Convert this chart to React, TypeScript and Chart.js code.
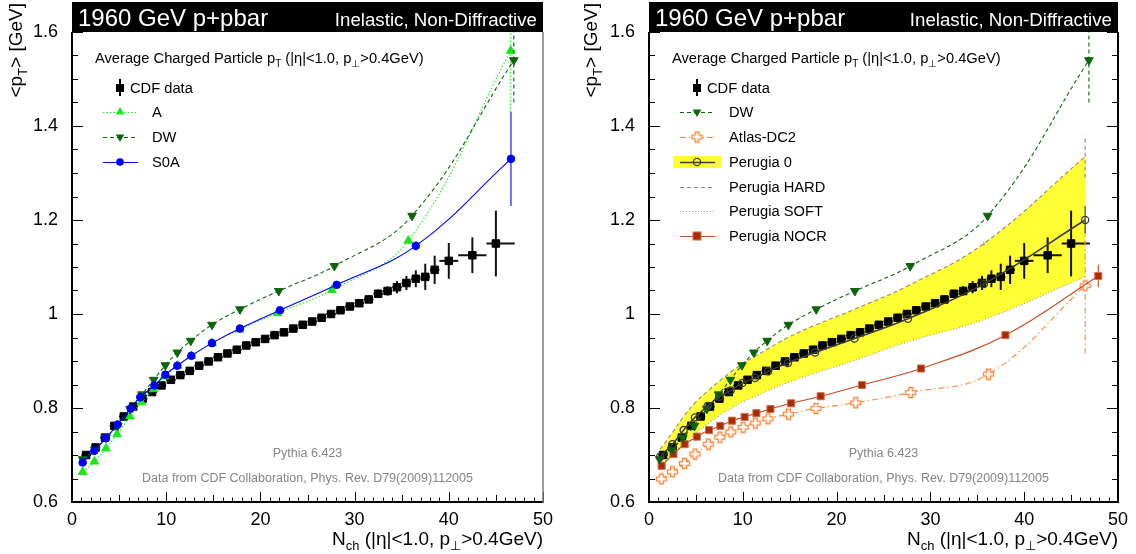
import React, { useEffect, useRef } from "react";
import { Chart, registerables } from "chart.js";
Chart.register(...registerables);

const FONT = "'Liberation Sans', Arial, Helvetica, sans-serif";

// ---------------- CDF data ----------------
const cdfX = [1.5, 2.5, 3.5, 4.5, 5.5, 6.5, 7.5, 8.5, 9.5, 10.5, 11.5, 12.5, 13.5, 14.5, 15.5, 16.5, 17.5, 18.5, 19.5, 20.5, 21.5, 22.5, 23.5, 24.5, 25.5, 26.5, 27.5, 28.5, 29.5, 30.5, 31.5, 32.5, 33.5, 34.5, 35.5, 36.5, 37.5, 38.5, 40, 42.5, 45];
const cdfY = [0.700, 0.716, 0.737, 0.762, 0.782, 0.803, 0.820, 0.834, 0.848, 0.860, 0.870, 0.879, 0.890, 0.899, 0.908, 0.916, 0.924, 0.933, 0.940, 0.947, 0.955, 0.961, 0.969, 0.977, 0.984, 0.992, 1.000, 1.008, 1.016, 1.023, 1.031, 1.043, 1.049, 1.057, 1.066, 1.075, 1.079, 1.094, 1.113, 1.125, 1.150];
const cdfErrY = [0.004, 0.004, 0.004, 0.004, 0.004, 0.004, 0.004, 0.004, 0.004, 0.004, 0.004, 0.004, 0.004, 0.004, 0.004, 0.004, 0.004, 0.004, 0.004, 0.004, 0.005, 0.005, 0.005, 0.005, 0.005, 0.006, 0.006, 0.007, 0.007, 0.008, 0.008, 0.009, 0.010, 0.013, 0.015, 0.018, 0.028, 0.030, 0.038, 0.038, 0.070];
const cdfErrXLo = [0.5, 0.5, 0.5, 0.5, 0.5, 0.5, 0.5, 0.5, 0.5, 0.5, 0.5, 0.5, 0.5, 0.5, 0.5, 0.5, 0.5, 0.5, 0.5, 0.5, 0.5, 0.5, 0.5, 0.5, 0.5, 0.5, 0.5, 0.5, 0.5, 0.5, 0.5, 0.5, 0.5, 0.5, 0.5, 0.5, 0.5, 0.5, 1, 1.5, 1];
const cdfErrXHi = [0.5, 0.5, 0.5, 0.5, 0.5, 0.5, 0.5, 0.5, 0.5, 0.5, 0.5, 0.5, 0.5, 0.5, 0.5, 0.5, 0.5, 0.5, 0.5, 0.5, 0.5, 0.5, 0.5, 0.5, 0.5, 0.5, 0.5, 0.5, 0.5, 0.5, 0.5, 0.5, 0.5, 0.5, 0.5, 0.5, 0.5, 0.5, 1, 1.5, 2];

// ---------------- Left panel MC ----------------
const aX = [1.13, 2.37, 3.61, 4.78, 6.16, 7.36, 8.67, 9.8, 11.18, 12.67, 14.86, 17.76, 21.8, 27.6, 35.7, 46.57];
const aY = [0.664, 0.686, 0.714, 0.744, 0.782, 0.812, 0.840, 0.867, 0.890, 0.911, 0.938, 0.967, 1.002, 1.051, 1.156, 1.560];
const aErr = [0, 0, 0, 0, 0, 0, 0, 0, 0, 0, 0, 0, 0, 0, 0.006, 0.13];

const dwX = [1.13, 2.44, 3.61, 4.85, 6.16, 7.43, 8.67, 9.91, 11.18, 12.6, 14.86, 17.83, 21.95, 27.85, 36.1, 46.9];
const dwY = [0.691, 0.711, 0.737, 0.762, 0.798, 0.829, 0.860, 0.891, 0.918, 0.943, 0.977, 1.010, 1.049, 1.102, 1.209, 1.540];
const dwErr = [0, 0, 0, 0, 0, 0, 0, 0, 0, 0, 0, 0, 0, 0, 0.006, 0.09];

const s0aX = [1.13, 2.37, 3.61, 4.85, 6.23, 7.25, 8.74, 9.91, 11.18, 12.67, 14.86, 17.83, 22.08, 28.1, 36.5, 46.6];
const s0aY = [0.684, 0.709, 0.736, 0.765, 0.799, 0.823, 0.848, 0.871, 0.890, 0.911, 0.938, 0.969, 1.008, 1.062, 1.145, 1.330];
const s0aErr = [0, 0, 0, 0, 0, 0, 0, 0, 0, 0, 0, 0, 0, 0, 0.01, 0.10];

// ---------------- Right panel MC ----------------
const p0X = [1.2, 2.5, 3.7, 4.9, 6.25, 7.5, 8.7, 9.95, 11.3, 12.7, 14.8, 17.7, 21.9, 27.6, 35.7, 46.5];
const p0Y = [0.697, 0.723, 0.753, 0.780, 0.804, 0.824, 0.837, 0.853, 0.864, 0.878, 0.896, 0.918, 0.948, 0.990, 1.064, 1.200];
const p0Err = [0, 0, 0, 0, 0, 0, 0, 0, 0, 0, 0, 0, 0, 0, 0.005, 0.03];

const hardY = [0.712, 0.748, 0.782, 0.811, 0.836, 0.857, 0.876, 0.894, 0.910, 0.926, 0.950, 0.976, 1.010, 1.060, 1.150, 1.335];
const hardErr = [0, 0, 0, 0, 0, 0, 0, 0, 0, 0, 0, 0, 0, 0, 0.005, 0.045];
const softY = [0.680, 0.700, 0.722, 0.745, 0.766, 0.784, 0.799, 0.813, 0.824, 0.837, 0.854, 0.874, 0.901, 0.941, 0.988, 1.079];

const atlasX = [1.31, 2.5, 3.78, 4.9, 6.32, 7.56, 8.72, 10.03, 11.33, 12.68, 14.87, 17.8, 22.03, 27.9, 36.2, 46.5];
const atlasY = [0.649, 0.664, 0.682, 0.702, 0.723, 0.738, 0.749, 0.759, 0.768, 0.777, 0.787, 0.799, 0.811, 0.833, 0.872, 1.060];
const atlasErr = [0, 0, 0, 0, 0, 0, 0, 0, 0, 0, 0, 0, 0, 0, 0.006, 0.145];

const nocrX = [1.35, 2.6, 3.8, 5.1, 6.4, 7.6, 8.85, 10.2, 11.45, 12.95, 15.15, 18.3, 22.7, 29.0, 38.0, 47.9];
const nocrY = [0.677, 0.702, 0.723, 0.739, 0.753, 0.762, 0.773, 0.781, 0.789, 0.798, 0.810, 0.825, 0.849, 0.884, 0.955, 1.081];
const nocrErr = [0, 0, 0, 0, 0, 0, 0, 0, 0, 0, 0, 0, 0, 0, 0.005, 0.024];

// ---------------- tick labels ----------------
const xTicks = [0, 10, 20, 30, 40, 50];
const yTicks = [0.6, 0.8, 1.0, 1.2, 1.4, 1.6];

// ---------------- colours ----------------
const C_A = "#18e818";
const C_DW = "#0b660b";
const C_S0A = "#0000ff";
const C_ATLAS = "#ff8436";
const C_P0 = "#3c3c3c";
const C_HARD = "#8a8a8a";
const C_SOFT = "#9a9a9a";
const C_NOCR_LINE = "#c24a1e";
const C_NOCR_FILL = "#a82c00";
const C_YELLOW = "#ffff33";

type Seg = { t: string; sub?: boolean };

function pts(xs: number[], ys: number[]) {
  return xs.map((x, i) => ({ x, y: ys[i] }));
}

function segFont(size: number, sub?: boolean) {
  return `${sub ? size * 0.68 : size}px ${FONT}`;
}

function richWidth(ctx: CanvasRenderingContext2D, segs: Seg[], size: number) {
  let w = 0;
  for (const s of segs) {
    ctx.font = segFont(size, s.sub);
    w += ctx.measureText(s.t).width;
  }
  return w;
}

function drawRich(ctx: CanvasRenderingContext2D, segs: Seg[], x: number, y: number, size: number, align: string, color: string) {
  const w = richWidth(ctx, segs, size);
  let cx = align === "right" ? x - w : align === "center" ? x - w / 2 : x;
  ctx.fillStyle = color;
  ctx.textAlign = "left";
  ctx.textBaseline = "alphabetic";
  for (const s of segs) {
    ctx.font = segFont(size, s.sub);
    ctx.fillText(s.t, cx, s.sub ? y + size * 0.28 : y);
    cx += ctx.measureText(s.t).width;
  }
}

function makeCross(color: string) {
  const size = 11;
  const c = document.createElement("canvas");
  c.width = size + 2;
  c.height = size + 2;
  const g = c.getContext("2d")!;
  const m = (size + 2) / 2;
  const h = size / 2 - 0.5;
  const a = 1.9;
  g.beginPath();
  g.moveTo(m - a, m - h);
  g.lineTo(m + a, m - h);
  g.lineTo(m + a, m - a);
  g.lineTo(m + h, m - a);
  g.lineTo(m + h, m + a);
  g.lineTo(m + a, m + a);
  g.lineTo(m + a, m + h);
  g.lineTo(m - a, m + h);
  g.lineTo(m - a, m + a);
  g.lineTo(m - h, m + a);
  g.lineTo(m - h, m - a);
  g.lineTo(m - a, m - a);
  g.closePath();
  g.fillStyle = "#ffffff";
  g.fill();
  g.strokeStyle = color;
  g.lineWidth = 1.3;
  g.stroke();
  return c;
}

function seg(ctx: CanvasRenderingContext2D, x1: number, y1: number, x2: number, y2: number) {
  ctx.beginPath();
  ctx.moveTo(x1, y1);
  ctx.lineTo(x2, y2);
  ctx.stroke();
}

function drawMarker(ctx: CanvasRenderingContext2D, kind: string, x: number, y: number, color: string, cross?: HTMLCanvasElement) {
  ctx.save();
  ctx.setLineDash([]);
  ctx.fillStyle = color;
  ctx.strokeStyle = color;
  if (kind === "square") {
    ctx.fillRect(x - 4, y - 4, 8, 8);
  } else if (kind === "nocr") {
    ctx.fillStyle = C_NOCR_FILL;
    ctx.strokeStyle = "#d07050";
    ctx.fillRect(x - 4, y - 4, 8, 8);
    ctx.strokeRect(x - 4, y - 4, 8, 8);
  } else if (kind === "triUp" || kind === "triDown") {
    const r = 5;
    const s = kind === "triUp" ? 1 : -1;
    ctx.beginPath();
    ctx.moveTo(x, y - s * r);
    ctx.lineTo(x + r * 0.866, y + s * r * 0.5);
    ctx.lineTo(x - r * 0.866, y + s * r * 0.5);
    ctx.closePath();
    ctx.fill();
  } else if (kind === "circle") {
    ctx.beginPath();
    ctx.arc(x, y, 3.8, 0, Math.PI * 2);
    ctx.fill();
  } else if (kind === "openCircle") {
    ctx.lineWidth = 1.3;
    ctx.beginPath();
    ctx.arc(x, y, 3.6, 0, Math.PI * 2);
    ctx.stroke();
  } else if (kind === "cross" && cross) {
    ctx.drawImage(cross, x - cross.width / 2, y - cross.height / 2);
  }
  ctx.restore();
}

type LegendEntry = {
  label: string;
  y: number;
  line?: { color: string; dash: number[]; width?: number };
  marker?: string;
  mcolor?: string;
  band?: boolean;
  cdf?: boolean;
};

function makeChart(canvas: HTMLCanvasElement, panel: "left" | "right") {
  const cross = makeCross(C_ATLAS);
  const isLeft = panel === "left";
  const yW = isLeft ? 72 : 81;
  const rightPad = isLeft ? 25 : 18;

  const cdfDs: any = {
    label: "CDF data",
    data: pts(cdfX, cdfY),
    showLine: false,
    pointStyle: "rect",
    pointRadius: 5.3,
    pointBorderWidth: 1,
    pointBackgroundColor: "#000",
    pointBorderColor: "#000",
    errY: cdfErrY,
    errXLo: cdfErrXLo,
    errXHi: cdfErrXHi,
    errColor: "#111",
    errWidth: 2,
    order: 8,
  };

  const mc = (label: string, xs: number[], ys: number[], errs: number[], o: any) => ({
    label,
    data: pts(xs, ys),
    errY: errs,
    showLine: true,
    fill: false,
    tension: 0.4,
    borderWidth: 1.1,
    pointBorderWidth: 1,
    ...o,
  });

  const dwDs = mc("DW", dwX, dwY, dwErr, {
    borderColor: C_DW,
    borderDash: [4, 3],
    errDash: [4, 3],
    pointStyle: "triangle",
    pointRotation: 180,
    pointRadius: 5,
    pointBackgroundColor: C_DW,
    pointBorderColor: C_DW,
    order: 3,
  });

  let datasets: any[];
  let legend: LegendEntry[];

  if (isLeft) {
    datasets = [
      cdfDs,
      mc("A", aX, aY, aErr, {
        borderColor: C_A,
        borderDash: [1.5, 2],
        errDash: [1.5, 2],
        pointStyle: "triangle",
        pointRadius: 5,
        pointBackgroundColor: C_A,
        pointBorderColor: C_A,
        order: 4,
      }),
      dwDs,
      mc("S0A", s0aX, s0aY, s0aErr, {
        borderColor: C_S0A,
        pointStyle: "circle",
        pointRadius: 3.8,
        pointBackgroundColor: C_S0A,
        pointBorderColor: C_S0A,
        order: 2,
      }),
    ];
    legend = [
      { label: "CDF data", y: 88, cdf: true },
      { label: "A", y: 112, line: { color: C_A, dash: [1.5, 2] }, marker: "triUp", mcolor: C_A },
      { label: "DW", y: 137, line: { color: C_DW, dash: [4, 3] }, marker: "triDown", mcolor: C_DW },
      { label: "S0A", y: 162, line: { color: C_S0A, dash: [] }, marker: "circle", mcolor: C_S0A },
    ];
  } else {
    datasets = [
      mc("Perugia HARD", p0X, hardY, hardErr, {
        borderColor: C_HARD,
        borderDash: [4, 3],
        errDash: [4, 3],
        pointRadius: 0,
        fill: "+1",
        backgroundColor: C_YELLOW,
        order: 10,
      }),
      mc("Perugia SOFT", p0X, softY, p0Err.map(() => 0), {
        borderColor: C_SOFT,
        borderDash: [1, 2],
        pointRadius: 0,
        order: 9,
      }),
      cdfDs,
      mc("Atlas-DC2", atlasX, atlasY, atlasErr, {
        borderColor: C_ATLAS,
        borderDash: [6, 3, 1.5, 3],
        errDash: [6, 3, 1.5, 3],
        pointStyle: cross,
        pointRadius: 5,
        order: 6,
      }),
      mc("Perugia NOCR", nocrX, nocrY, nocrErr, {
        borderColor: C_NOCR_LINE,
        pointStyle: "rect",
        pointRadius: 5,
        pointBackgroundColor: C_NOCR_FILL,
        pointBorderColor: "#d07050",
        order: 5,
      }),
      dwDs,
      mc("Perugia 0", p0X, p0Y, p0Err, {
        borderColor: C_P0,
        borderWidth: 1.5,
        pointStyle: "circle",
        pointRadius: 3.6,
        pointBorderWidth: 1.3,
        pointBackgroundColor: "rgba(0,0,0,0)",
        pointBorderColor: C_P0,
        errColor: C_P0,
        order: 2,
      }),
    ];
    legend = [
      { label: "CDF data", y: 88, cdf: true },
      { label: "DW", y: 112, line: { color: C_DW, dash: [4, 3] }, marker: "triDown", mcolor: C_DW },
      { label: "Atlas-DC2", y: 137, line: { color: C_ATLAS, dash: [6, 3, 1.5, 3] }, marker: "cross", mcolor: C_ATLAS },
      { label: "Perugia 0", y: 162, band: true, line: { color: C_P0, dash: [], width: 1.5 }, marker: "openCircle", mcolor: C_P0 },
      { label: "Perugia HARD", y: 187, line: { color: C_HARD, dash: [4, 3] } },
      { label: "Perugia SOFT", y: 211, line: { color: C_SOFT, dash: [1, 2] } },
      { label: "Perugia NOCR", y: 236, line: { color: C_NOCR_LINE, dash: [] }, marker: "nocr", mcolor: C_NOCR_FILL },
    ];
  }

  const errPlugin = {
    id: "errbars",
    beforeDatasetDraw(chart: any, args: any) {
      const ds = chart.data.datasets[args.index];
      if (!ds.errY && !ds.errXLo) return;
      const { ctx, chartArea: ca, scales } = chart;
      const xs = scales.x;
      const ys = scales.y;
      ctx.save();
      ctx.beginPath();
      ctx.rect(ca.left, ca.top, ca.right - ca.left, ca.bottom - ca.top);
      ctx.clip();
      ctx.strokeStyle = ds.errColor || ds.borderColor;
      ctx.lineWidth = ds.errWidth || 1.1;
      ctx.setLineDash(ds.errDash || []);
      ds.data.forEach((p: any, i: number) => {
        const px = xs.getPixelForValue(p.x);
        const py = ys.getPixelForValue(p.y);
        const e = ds.errY ? ds.errY[i] : 0;
        if (e > 0) seg(ctx, px, ys.getPixelForValue(p.y - e), px, ys.getPixelForValue(p.y + e));
        if (ds.errXLo) seg(ctx, xs.getPixelForValue(p.x - ds.errXLo[i]), py, xs.getPixelForValue(p.x + ds.errXHi[i]), py);
      });
      ctx.restore();
    },
  };

  const framePlugin = {
    id: "frame",
    afterDatasetsDraw(chart: any) {
      const { ctx, chartArea: ca, scales } = chart;
      const xs = scales.x;
      const ys = scales.y;
      ctx.save();
      ctx.setLineDash([]);
      ctx.strokeStyle = "#000";
      ctx.lineWidth = 1;
      for (let i = 0; i <= 20; i++) {
        const v = 0.6 + i * 0.05;
        const py = Math.round(ys.getPixelForValue(v)) + 0.5;
        const L = i % 4 === 0 ? 11 : 6;
        seg(ctx, ca.left, py, ca.left + L, py);
        if (!isLeft) seg(ctx, ca.right - L, py, ca.right, py);
      }
      for (let i = 0; i <= 50; i++) {
        const px = Math.round(xs.getPixelForValue(i)) + 0.5;
        const L = i % 10 === 0 ? 10 : i % 5 === 0 ? 7 : 4.5;
        seg(ctx, px, ca.bottom - L, px, ca.bottom);
      }
      ctx.lineWidth = 2;
      seg(ctx, ca.left, ca.top, ca.left, ca.bottom + 1);
      seg(ctx, ca.left - 1, ca.bottom, ca.right + 1, ca.bottom);
      if (isLeft) {
        ctx.strokeStyle = "#7a7a7a";
        ctx.lineWidth = 1.5;
      }
      seg(ctx, ca.right, ca.top, ca.right, ca.bottom + 1);
      ctx.restore();
    },
  };

  const decoPlugin = {
    id: "deco",
    afterDraw(chart: any) {
      const { ctx, chartArea: ca } = chart;
      ctx.save();
      // header bar
      ctx.fillStyle = "#000";
      ctx.fillRect(ca.left, 2, ca.right - ca.left, ca.top - 2);
      ctx.fillStyle = "#fff";
      ctx.textBaseline = "alphabetic";
      ctx.font = `24px ${FONT}`;
      ctx.textAlign = "left";
      ctx.fillText("1960 GeV p+pbar", ca.left + 6, 26);
      ctx.font = `18.7px ${FONT}`;
      ctx.textAlign = "right";
      ctx.fillText("Inelastic, Non-Diffractive", ca.right - 6, 26);

      // axis titles
      drawRich(ctx, [{ t: "N" }, { t: "ch", sub: true }, { t: " (|η|<1.0, p" }, { t: "⊥", sub: true }, { t: ">0.4GeV)" }], ca.right, 545, 19, "right", "#000");
      ctx.save();
      ctx.translate(isLeft ? 22 : 597 - 568, 3);
      ctx.rotate(-Math.PI / 2);
      drawRich(ctx, [{ t: "<p" }, { t: "T", sub: true }, { t: "> [GeV]" }], 0, 0, 19, "right", "#000");
      ctx.restore();

      // footnotes
      const cx = (ca.left + ca.right) / 2;
      ctx.fillStyle = "#858585";
      ctx.textAlign = "center";
      ctx.font = `12.5px ${FONT}`;
      ctx.fillText("Pythia 6.423", cx, 457);
      ctx.fillText("Data from CDF Collaboration, Phys. Rev. D79(2009)112005", cx, 482);

      // legend
      drawRich(ctx, [{ t: "Average Charged Particle p" }, { t: "T", sub: true }, { t: " (|η|<1.0, p" }, { t: "⊥", sub: true }, { t: ">0.4GeV)" }], ca.left + 23, 63, 14.7, "left", "#000");
      const mx = ca.left + 48;
      for (const e of legend) {
        const ty = e.y + 5.2;
        if (e.cdf) {
          ctx.strokeStyle = "#000";
          ctx.lineWidth = 2;
          ctx.setLineDash([]);
          seg(ctx, mx, e.y - 9, mx, e.y + 8);
          drawMarker(ctx, "square", mx, e.y, "#000");
          ctx.fillStyle = "#000";
          ctx.font = `14.7px ${FONT}`;
          ctx.textAlign = "left";
          ctx.fillText(e.label, ca.left + 58, ty);
          continue;
        }
        if (e.band) {
          ctx.fillStyle = C_YELLOW;
          ctx.fillRect(ca.left + 24, e.y - 6, 49, 12);
        }
        if (e.line) {
          ctx.strokeStyle = e.line.color;
          ctx.lineWidth = e.line.width || 1.1;
          ctx.setLineDash(e.line.dash);
          seg(ctx, ca.left + 31, e.y + 0.5, ca.left + 66, e.y + 0.5);
          ctx.setLineDash([]);
        }
        if (e.marker) drawMarker(ctx, e.marker, mx, e.y, e.mcolor || "#000", cross);
        ctx.fillStyle = "#000";
        ctx.font = `14.7px ${FONT}`;
        ctx.textAlign = "left";
        ctx.fillText(e.label, ca.left + 80, ty);
      }
      ctx.restore();
    },
  };

  const tickFont = { family: FONT, size: 18 };

  return new Chart(canvas, {
    type: "line",
    data: { datasets },
    options: {
      responsive: false,
      animation: false,
      events: [],
      layout: { padding: { left: 0, right: rightPad, top: 32, bottom: 0 } },
      plugins: { legend: { display: false }, tooltip: { enabled: false } },
      elements: { point: { hitRadius: 0 } },
      scales: {
        x: {
          type: "linear",
          min: 0,
          max: 50,
          afterFit: (s: any) => {
            s.height = 52;
          },
          afterBuildTicks: (s: any) => {
            s.ticks = xTicks.map((v) => ({ value: v }));
          },
          grid: { display: false, drawTicks: false, tickLength: 0 },
          border: { display: false },
          ticks: {
            autoSkip: false,
            maxRotation: 0,
            padding: 7,
            color: "#000",
            font: tickFont,
            callback: (v: any) => String(v),
          },
        },
        y: {
          type: "linear",
          min: 0.6,
          max: 1.6,
          afterFit: (s: any) => {
            s.width = yW;
          },
          afterBuildTicks: (s: any) => {
            s.ticks = yTicks.map((v) => ({ value: v }));
          },
          grid: { display: false, drawTicks: false, tickLength: 0 },
          border: { display: false },
          ticks: {
            padding: 14,
            color: "#000",
            font: tickFont,
            callback: (v: any) => String(Math.round(v * 10) / 10),
          },
        },
      },
    } as any,
    plugins: [errPlugin, framePlugin, decoPlugin],
  });
}

function Panel({ panel, left }: { panel: "left" | "right"; left: number }) {
  const ref = useRef<HTMLCanvasElement>(null);
  useEffect(() => {
    const chart = makeChart(ref.current!, panel);
    return () => chart.destroy();
  }, [panel]);
  return (
    <div style={{ position: "absolute", left, top: 0, width: 568, height: 554 }}>
      <canvas ref={ref} width={568} height={554} style={{ width: 568, height: 554, display: "block" }} />
    </div>
  );
}

export default function App() {
  return (
    <div style={{ position: "absolute", left: 0, top: 0, width: 1136, height: 554, background: "#fff", overflow: "hidden" }}>
      <Panel panel="left" left={0} />
      <Panel panel="right" left={568} />
    </div>
  );
}
